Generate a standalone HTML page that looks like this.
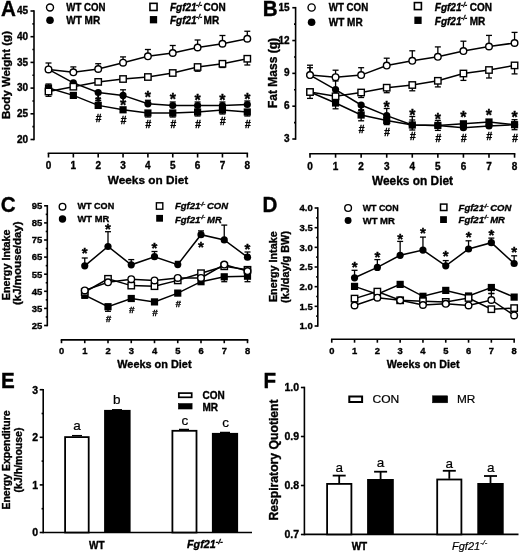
<!DOCTYPE html>
<html><head><meta charset="utf-8"><style>
html,body{margin:0;padding:0;background:#fff;}
svg{display:block;will-change:transform;}
text{font-family:"Liberation Sans",sans-serif;fill:#000;}
text{stroke:#000;stroke-width:0.2px;}
text[font-weight="bold"]{stroke:#000;stroke-width:0.35px;}
</style></head><body>
<svg width="520" height="554" viewBox="0 0 520 554">
<rect width="520" height="554" fill="#fff"/>
<text transform="translate(0.90,16.20) scale(1.03,1.1)" font-size="20" font-weight="bold">A</text>
<line x1="34.00" y1="10.20" x2="34.00" y2="140.30" stroke="#000" stroke-width="1.6"/>
<line x1="30.50" y1="11.00" x2="34.00" y2="11.00" stroke="#000" stroke-width="1.6"/>
<line x1="30.50" y1="36.70" x2="34.00" y2="36.70" stroke="#000" stroke-width="1.6"/>
<line x1="30.50" y1="62.40" x2="34.00" y2="62.40" stroke="#000" stroke-width="1.6"/>
<line x1="30.50" y1="88.10" x2="34.00" y2="88.10" stroke="#000" stroke-width="1.6"/>
<line x1="30.50" y1="113.80" x2="34.00" y2="113.80" stroke="#000" stroke-width="1.6"/>
<line x1="30.50" y1="139.50" x2="34.00" y2="139.50" stroke="#000" stroke-width="1.6"/>
<line x1="32.40" y1="23.85" x2="34.00" y2="23.85" stroke="#000" stroke-width="1.6"/>
<line x1="32.40" y1="49.55" x2="34.00" y2="49.55" stroke="#000" stroke-width="1.6"/>
<line x1="32.40" y1="75.25" x2="34.00" y2="75.25" stroke="#000" stroke-width="1.6"/>
<line x1="32.40" y1="100.95" x2="34.00" y2="100.95" stroke="#000" stroke-width="1.6"/>
<line x1="32.40" y1="126.65" x2="34.00" y2="126.65" stroke="#000" stroke-width="1.6"/>
<text x="28.20" y="14.10" font-size="10" font-weight="bold" text-anchor="end" font-style="normal" >45</text>
<text x="28.20" y="39.80" font-size="10" font-weight="bold" text-anchor="end" font-style="normal" >40</text>
<text x="28.20" y="65.50" font-size="10" font-weight="bold" text-anchor="end" font-style="normal" >35</text>
<text x="28.20" y="91.20" font-size="10" font-weight="bold" text-anchor="end" font-style="normal" >30</text>
<text x="28.20" y="116.90" font-size="10" font-weight="bold" text-anchor="end" font-style="normal" >25</text>
<text x="28.20" y="142.60" font-size="10" font-weight="bold" text-anchor="end" font-style="normal" >20</text>
<line x1="47.70" y1="153.20" x2="248.10" y2="153.20" stroke="#000" stroke-width="1.6"/>
<line x1="48.50" y1="153.20" x2="48.50" y2="157.50" stroke="#000" stroke-width="1.6"/>
<line x1="73.35" y1="153.20" x2="73.35" y2="157.50" stroke="#000" stroke-width="1.6"/>
<line x1="98.20" y1="153.20" x2="98.20" y2="157.50" stroke="#000" stroke-width="1.6"/>
<line x1="123.05" y1="153.20" x2="123.05" y2="157.50" stroke="#000" stroke-width="1.6"/>
<line x1="147.90" y1="153.20" x2="147.90" y2="157.50" stroke="#000" stroke-width="1.6"/>
<line x1="172.75" y1="153.20" x2="172.75" y2="157.50" stroke="#000" stroke-width="1.6"/>
<line x1="197.60" y1="153.20" x2="197.60" y2="157.50" stroke="#000" stroke-width="1.6"/>
<line x1="222.45" y1="153.20" x2="222.45" y2="157.50" stroke="#000" stroke-width="1.6"/>
<line x1="247.30" y1="153.20" x2="247.30" y2="157.50" stroke="#000" stroke-width="1.6"/>
<text x="48.50" y="169.20" font-size="10" font-weight="bold" text-anchor="middle" font-style="normal" >0</text>
<text x="73.35" y="169.20" font-size="10" font-weight="bold" text-anchor="middle" font-style="normal" >1</text>
<text x="98.20" y="169.20" font-size="10" font-weight="bold" text-anchor="middle" font-style="normal" >2</text>
<text x="123.05" y="169.20" font-size="10" font-weight="bold" text-anchor="middle" font-style="normal" >3</text>
<text x="147.90" y="169.20" font-size="10" font-weight="bold" text-anchor="middle" font-style="normal" >4</text>
<text x="172.75" y="169.20" font-size="10" font-weight="bold" text-anchor="middle" font-style="normal" >5</text>
<text x="197.60" y="169.20" font-size="10" font-weight="bold" text-anchor="middle" font-style="normal" >6</text>
<text x="222.45" y="169.20" font-size="10" font-weight="bold" text-anchor="middle" font-style="normal" >7</text>
<text x="247.30" y="169.20" font-size="10" font-weight="bold" text-anchor="middle" font-style="normal" >8</text>
<text x="148.00" y="184.40" font-size="11.8" font-weight="bold" text-anchor="middle" font-style="normal" >Weeks on Diet</text>
<text transform="translate(10.00,75.00) rotate(-90)" font-size="11.5" font-weight="bold" text-anchor="middle">Body Weight (g)</text>
<circle cx="50.00" cy="7.50" r="3.5" fill="#fff" stroke="#000" stroke-width="1.4"/>
<circle cx="50.00" cy="20.20" r="3.8" fill="#000"/>
<rect x="149.95" y="3.35" width="7.1" height="7.1" fill="#fff" stroke="#000" stroke-width="1.6"/>
<rect x="149.85" y="16.05" width="7.3" height="7.3" fill="#000"/>
<text x="66.30" y="11.30" font-size="10" font-weight="bold" text-anchor="start" font-style="normal"  textLength="39.2" lengthAdjust="spacingAndGlyphs">WT CON</text>
<text x="66.30" y="23.60" font-size="10" font-weight="bold" text-anchor="start" font-style="normal" >WT MR</text>
<text x="170.00" y="11.30" font-size="10" font-weight="bold" text-anchor="start" font-style="italic" >Fgf21</text>
<text x="196.00" y="6.90" font-size="6.5" font-weight="bold" text-anchor="start" font-style="italic" >-/-</text>
<text x="203.60" y="11.20" font-size="10" font-weight="bold" text-anchor="start" font-style="normal" >CON</text>
<text x="170.00" y="23.60" font-size="10" font-weight="bold" text-anchor="start" font-style="italic" >Fgf21</text>
<text x="196.00" y="19.20" font-size="6.5" font-weight="bold" text-anchor="start" font-style="italic" >-/-</text>
<text x="203.60" y="23.50" font-size="10" font-weight="bold" text-anchor="start" font-style="normal" >MR</text>
<line x1="48.50" y1="69.40" x2="48.50" y2="63.00" stroke="#000" stroke-width="1.3"/>
<line x1="45.50" y1="63.00" x2="51.50" y2="63.00" stroke="#000" stroke-width="1.3"/>
<line x1="48.50" y1="91.50" x2="48.50" y2="96.30" stroke="#000" stroke-width="1.3"/>
<line x1="45.50" y1="96.30" x2="51.50" y2="96.30" stroke="#000" stroke-width="1.3"/>
<line x1="73.35" y1="72.30" x2="73.35" y2="66.90" stroke="#000" stroke-width="1.3"/>
<line x1="70.35" y1="66.90" x2="76.35" y2="66.90" stroke="#000" stroke-width="1.3"/>
<line x1="98.20" y1="69.00" x2="98.20" y2="63.70" stroke="#000" stroke-width="1.3"/>
<line x1="95.20" y1="63.70" x2="101.20" y2="63.70" stroke="#000" stroke-width="1.3"/>
<line x1="123.05" y1="62.70" x2="123.05" y2="56.90" stroke="#000" stroke-width="1.3"/>
<line x1="120.05" y1="56.90" x2="126.05" y2="56.90" stroke="#000" stroke-width="1.3"/>
<line x1="147.90" y1="56.30" x2="147.90" y2="49.50" stroke="#000" stroke-width="1.3"/>
<line x1="144.90" y1="49.50" x2="150.90" y2="49.50" stroke="#000" stroke-width="1.3"/>
<line x1="172.75" y1="53.00" x2="172.75" y2="45.50" stroke="#000" stroke-width="1.3"/>
<line x1="169.75" y1="45.50" x2="175.75" y2="45.50" stroke="#000" stroke-width="1.3"/>
<line x1="197.60" y1="47.50" x2="197.60" y2="40.00" stroke="#000" stroke-width="1.3"/>
<line x1="194.60" y1="40.00" x2="200.60" y2="40.00" stroke="#000" stroke-width="1.3"/>
<line x1="197.60" y1="67.00" x2="197.60" y2="71.25" stroke="#000" stroke-width="1.3"/>
<line x1="194.60" y1="71.25" x2="200.60" y2="71.25" stroke="#000" stroke-width="1.3"/>
<line x1="222.45" y1="43.75" x2="222.45" y2="35.50" stroke="#000" stroke-width="1.3"/>
<line x1="219.45" y1="35.50" x2="225.45" y2="35.50" stroke="#000" stroke-width="1.3"/>
<line x1="222.45" y1="63.75" x2="222.45" y2="67.50" stroke="#000" stroke-width="1.3"/>
<line x1="219.45" y1="67.50" x2="225.45" y2="67.50" stroke="#000" stroke-width="1.3"/>
<line x1="247.30" y1="38.75" x2="247.30" y2="31.25" stroke="#000" stroke-width="1.3"/>
<line x1="244.30" y1="31.25" x2="250.30" y2="31.25" stroke="#000" stroke-width="1.3"/>
<line x1="247.30" y1="58.75" x2="247.30" y2="65.00" stroke="#000" stroke-width="1.3"/>
<line x1="244.30" y1="65.00" x2="250.30" y2="65.00" stroke="#000" stroke-width="1.3"/>
<line x1="147.90" y1="103.80" x2="147.90" y2="100.30" stroke="#000" stroke-width="1.3"/>
<line x1="144.90" y1="100.30" x2="150.90" y2="100.30" stroke="#000" stroke-width="1.3"/>
<line x1="147.90" y1="113.00" x2="147.90" y2="117.00" stroke="#000" stroke-width="1.3"/>
<line x1="144.90" y1="117.00" x2="150.90" y2="117.00" stroke="#000" stroke-width="1.3"/>
<line x1="172.75" y1="105.50" x2="172.75" y2="102.00" stroke="#000" stroke-width="1.3"/>
<line x1="169.75" y1="102.00" x2="175.75" y2="102.00" stroke="#000" stroke-width="1.3"/>
<line x1="172.75" y1="113.00" x2="172.75" y2="117.00" stroke="#000" stroke-width="1.3"/>
<line x1="169.75" y1="117.00" x2="175.75" y2="117.00" stroke="#000" stroke-width="1.3"/>
<line x1="197.60" y1="105.50" x2="197.60" y2="102.00" stroke="#000" stroke-width="1.3"/>
<line x1="194.60" y1="102.00" x2="200.60" y2="102.00" stroke="#000" stroke-width="1.3"/>
<line x1="197.60" y1="112.00" x2="197.60" y2="116.00" stroke="#000" stroke-width="1.3"/>
<line x1="194.60" y1="116.00" x2="200.60" y2="116.00" stroke="#000" stroke-width="1.3"/>
<line x1="222.45" y1="105.50" x2="222.45" y2="102.00" stroke="#000" stroke-width="1.3"/>
<line x1="219.45" y1="102.00" x2="225.45" y2="102.00" stroke="#000" stroke-width="1.3"/>
<line x1="222.45" y1="110.00" x2="222.45" y2="114.00" stroke="#000" stroke-width="1.3"/>
<line x1="219.45" y1="114.00" x2="225.45" y2="114.00" stroke="#000" stroke-width="1.3"/>
<line x1="247.30" y1="104.50" x2="247.30" y2="101.00" stroke="#000" stroke-width="1.3"/>
<line x1="244.30" y1="101.00" x2="250.30" y2="101.00" stroke="#000" stroke-width="1.3"/>
<line x1="247.30" y1="112.00" x2="247.30" y2="116.00" stroke="#000" stroke-width="1.3"/>
<line x1="244.30" y1="116.00" x2="250.30" y2="116.00" stroke="#000" stroke-width="1.3"/>
<line x1="98.20" y1="92.50" x2="98.20" y2="98.80" stroke="#000" stroke-width="1.3"/>
<line x1="95.20" y1="98.80" x2="101.20" y2="98.80" stroke="#000" stroke-width="1.3"/>
<line x1="123.05" y1="95.40" x2="123.05" y2="89.80" stroke="#000" stroke-width="1.3"/>
<line x1="120.05" y1="89.80" x2="126.05" y2="89.80" stroke="#000" stroke-width="1.3"/>
<line x1="98.20" y1="105.40" x2="98.20" y2="100.60" stroke="#000" stroke-width="1.3"/>
<line x1="95.20" y1="100.60" x2="101.20" y2="100.60" stroke="#000" stroke-width="1.3"/>
<line x1="48.50" y1="88.00" x2="48.50" y2="84.00" stroke="#000" stroke-width="1.3"/>
<line x1="45.50" y1="84.00" x2="51.50" y2="84.00" stroke="#000" stroke-width="1.3"/>
<text x="98.20" y="105.78" font-size="14" font-weight="bold" text-anchor="middle" font-style="normal" >*</text>
<polyline points="48.50,69.40 73.35,72.30 98.20,69.00 123.05,62.70 147.90,56.30 172.75,53.00 197.60,47.50 222.45,43.75 247.30,38.75" fill="none" stroke="#000" stroke-width="1.5"/>
<polyline points="48.50,91.50 73.35,86.70 98.20,81.90 123.05,79.00 147.90,77.00 172.75,73.00 197.60,67.00 222.45,63.75 247.30,58.75" fill="none" stroke="#000" stroke-width="1.5"/>
<polyline points="48.50,69.40 73.35,82.90 98.20,92.50 123.05,95.40 147.90,103.80 172.75,105.50 197.60,105.50 222.45,105.50 247.30,104.50" fill="none" stroke="#000" stroke-width="1.5"/>
<polyline points="48.50,88.00 73.35,95.40 98.20,105.40 123.05,109.80 147.90,113.00 172.75,113.00 197.60,112.00 222.45,110.00 247.30,112.00" fill="none" stroke="#000" stroke-width="1.5"/>
<rect x="44.90" y="84.40" width="7.2" height="7.2" fill="#000"/>
<circle cx="48.50" cy="69.40" r="3.6" fill="#000"/>
<rect x="45.30" y="88.30" width="6.4" height="6.4" fill="#fff" stroke="#000" stroke-width="1.4"/>
<circle cx="48.50" cy="69.40" r="3.3" fill="#fff" stroke="#000" stroke-width="1.4"/>
<rect x="69.75" y="91.80" width="7.2" height="7.2" fill="#000"/>
<circle cx="73.35" cy="82.90" r="3.6" fill="#000"/>
<rect x="70.15" y="83.50" width="6.4" height="6.4" fill="#fff" stroke="#000" stroke-width="1.4"/>
<circle cx="73.35" cy="72.30" r="3.3" fill="#fff" stroke="#000" stroke-width="1.4"/>
<rect x="94.60" y="101.80" width="7.2" height="7.2" fill="#000"/>
<circle cx="98.20" cy="92.50" r="3.6" fill="#000"/>
<rect x="95.00" y="78.70" width="6.4" height="6.4" fill="#fff" stroke="#000" stroke-width="1.4"/>
<circle cx="98.20" cy="69.00" r="3.3" fill="#fff" stroke="#000" stroke-width="1.4"/>
<rect x="119.45" y="106.20" width="7.2" height="7.2" fill="#000"/>
<circle cx="123.05" cy="95.40" r="3.6" fill="#000"/>
<rect x="119.85" y="75.80" width="6.4" height="6.4" fill="#fff" stroke="#000" stroke-width="1.4"/>
<circle cx="123.05" cy="62.70" r="3.3" fill="#fff" stroke="#000" stroke-width="1.4"/>
<rect x="144.30" y="109.40" width="7.2" height="7.2" fill="#000"/>
<circle cx="147.90" cy="103.80" r="3.6" fill="#000"/>
<rect x="144.70" y="73.80" width="6.4" height="6.4" fill="#fff" stroke="#000" stroke-width="1.4"/>
<circle cx="147.90" cy="56.30" r="3.3" fill="#fff" stroke="#000" stroke-width="1.4"/>
<rect x="169.15" y="109.40" width="7.2" height="7.2" fill="#000"/>
<circle cx="172.75" cy="105.50" r="3.6" fill="#000"/>
<rect x="169.55" y="69.80" width="6.4" height="6.4" fill="#fff" stroke="#000" stroke-width="1.4"/>
<circle cx="172.75" cy="53.00" r="3.3" fill="#fff" stroke="#000" stroke-width="1.4"/>
<rect x="194.00" y="108.40" width="7.2" height="7.2" fill="#000"/>
<circle cx="197.60" cy="105.50" r="3.6" fill="#000"/>
<rect x="194.40" y="63.80" width="6.4" height="6.4" fill="#fff" stroke="#000" stroke-width="1.4"/>
<circle cx="197.60" cy="47.50" r="3.3" fill="#fff" stroke="#000" stroke-width="1.4"/>
<rect x="218.85" y="106.40" width="7.2" height="7.2" fill="#000"/>
<circle cx="222.45" cy="105.50" r="3.6" fill="#000"/>
<rect x="219.25" y="60.55" width="6.4" height="6.4" fill="#fff" stroke="#000" stroke-width="1.4"/>
<circle cx="222.45" cy="43.75" r="3.3" fill="#fff" stroke="#000" stroke-width="1.4"/>
<rect x="243.70" y="108.40" width="7.2" height="7.2" fill="#000"/>
<circle cx="247.30" cy="104.50" r="3.6" fill="#000"/>
<rect x="244.10" y="55.55" width="6.4" height="6.4" fill="#fff" stroke="#000" stroke-width="1.4"/>
<circle cx="247.30" cy="38.75" r="3.3" fill="#fff" stroke="#000" stroke-width="1.4"/>
<text x="123.05" y="110.60" font-size="16" font-weight="bold" text-anchor="middle" font-style="normal" >*</text>
<text x="147.90" y="103.40" font-size="16" font-weight="bold" text-anchor="middle" font-style="normal" >*</text>
<text x="172.75" y="105.20" font-size="16" font-weight="bold" text-anchor="middle" font-style="normal" >*</text>
<text x="197.60" y="105.50" font-size="16" font-weight="bold" text-anchor="middle" font-style="normal" >*</text>
<text x="222.45" y="105.50" font-size="16" font-weight="bold" text-anchor="middle" font-style="normal" >*</text>
<text x="247.30" y="105.20" font-size="16" font-weight="bold" text-anchor="middle" font-style="normal" >*</text>
<text x="98.50" y="121.58" font-size="10.5" font-weight="bold" text-anchor="middle" font-style="italic" >#</text>
<text x="123.35" y="124.48" font-size="10.5" font-weight="bold" text-anchor="middle" font-style="italic" >#</text>
<text x="148.20" y="127.78" font-size="10.5" font-weight="bold" text-anchor="middle" font-style="italic" >#</text>
<text x="173.05" y="128.18" font-size="10.5" font-weight="bold" text-anchor="middle" font-style="italic" >#</text>
<text x="197.90" y="128.18" font-size="10.5" font-weight="bold" text-anchor="middle" font-style="italic" >#</text>
<text x="222.75" y="125.28" font-size="10.5" font-weight="bold" text-anchor="middle" font-style="italic" >#</text>
<text x="247.60" y="128.18" font-size="10.5" font-weight="bold" text-anchor="middle" font-style="italic" >#</text>
<text transform="translate(262.70,16.00) scale(1.03,1.1)" font-size="20" font-weight="bold">B</text>
<line x1="295.60" y1="6.92" x2="295.60" y2="139.80" stroke="#000" stroke-width="1.6"/>
<line x1="292.30" y1="7.72" x2="295.60" y2="7.72" stroke="#000" stroke-width="1.6"/>
<line x1="292.30" y1="40.54" x2="295.60" y2="40.54" stroke="#000" stroke-width="1.6"/>
<line x1="292.30" y1="73.36" x2="295.60" y2="73.36" stroke="#000" stroke-width="1.6"/>
<line x1="292.30" y1="106.18" x2="295.60" y2="106.18" stroke="#000" stroke-width="1.6"/>
<line x1="292.30" y1="139.00" x2="295.60" y2="139.00" stroke="#000" stroke-width="1.6"/>
<line x1="294.00" y1="24.13" x2="295.60" y2="24.13" stroke="#000" stroke-width="1.6"/>
<line x1="294.00" y1="56.95" x2="295.60" y2="56.95" stroke="#000" stroke-width="1.6"/>
<line x1="294.00" y1="89.77" x2="295.60" y2="89.77" stroke="#000" stroke-width="1.6"/>
<line x1="294.00" y1="122.59" x2="295.60" y2="122.59" stroke="#000" stroke-width="1.6"/>
<text x="289.60" y="10.82" font-size="10" font-weight="bold" text-anchor="end" font-style="normal" >15</text>
<text x="289.60" y="43.64" font-size="10" font-weight="bold" text-anchor="end" font-style="normal" >12</text>
<text x="289.60" y="76.46" font-size="10" font-weight="bold" text-anchor="end" font-style="normal" >9</text>
<text x="289.60" y="109.28" font-size="10" font-weight="bold" text-anchor="end" font-style="normal" >6</text>
<text x="289.60" y="142.10" font-size="10" font-weight="bold" text-anchor="end" font-style="normal" >3</text>
<line x1="309.20" y1="153.70" x2="515.36" y2="153.70" stroke="#000" stroke-width="1.6"/>
<line x1="310.00" y1="153.70" x2="310.00" y2="157.70" stroke="#000" stroke-width="1.6"/>
<line x1="335.57" y1="153.70" x2="335.57" y2="157.70" stroke="#000" stroke-width="1.6"/>
<line x1="361.14" y1="153.70" x2="361.14" y2="157.70" stroke="#000" stroke-width="1.6"/>
<line x1="386.71" y1="153.70" x2="386.71" y2="157.70" stroke="#000" stroke-width="1.6"/>
<line x1="412.28" y1="153.70" x2="412.28" y2="157.70" stroke="#000" stroke-width="1.6"/>
<line x1="437.85" y1="153.70" x2="437.85" y2="157.70" stroke="#000" stroke-width="1.6"/>
<line x1="463.42" y1="153.70" x2="463.42" y2="157.70" stroke="#000" stroke-width="1.6"/>
<line x1="488.99" y1="153.70" x2="488.99" y2="157.70" stroke="#000" stroke-width="1.6"/>
<line x1="514.56" y1="153.70" x2="514.56" y2="157.70" stroke="#000" stroke-width="1.6"/>
<text x="310.00" y="169.80" font-size="10" font-weight="bold" text-anchor="middle" font-style="normal" >0</text>
<text x="335.57" y="169.80" font-size="10" font-weight="bold" text-anchor="middle" font-style="normal" >1</text>
<text x="361.14" y="169.80" font-size="10" font-weight="bold" text-anchor="middle" font-style="normal" >2</text>
<text x="386.71" y="169.80" font-size="10" font-weight="bold" text-anchor="middle" font-style="normal" >3</text>
<text x="412.28" y="169.80" font-size="10" font-weight="bold" text-anchor="middle" font-style="normal" >4</text>
<text x="437.85" y="169.80" font-size="10" font-weight="bold" text-anchor="middle" font-style="normal" >5</text>
<text x="463.42" y="169.80" font-size="10" font-weight="bold" text-anchor="middle" font-style="normal" >6</text>
<text x="488.99" y="169.80" font-size="10" font-weight="bold" text-anchor="middle" font-style="normal" >7</text>
<text x="514.56" y="169.80" font-size="10" font-weight="bold" text-anchor="middle" font-style="normal" >8</text>
<text x="412.50" y="184.60" font-size="11.9" font-weight="bold" text-anchor="middle" font-style="normal" >Weeks on Diet</text>
<text transform="translate(277.30,73.00) rotate(-90)" font-size="12" font-weight="bold" text-anchor="middle">Fat Mass (g)</text>
<circle cx="311.60" cy="7.50" r="3.6" fill="#fff" stroke="#000" stroke-width="1.4"/>
<circle cx="311.60" cy="22.20" r="3.8" fill="#000"/>
<rect x="414.40" y="2.60" width="7.0" height="7.0" fill="#fff" stroke="#000" stroke-width="1.6"/>
<rect x="414.35" y="16.65" width="7.3" height="7.3" fill="#000"/>
<text x="328.80" y="11.30" font-size="10" font-weight="bold" text-anchor="start" font-style="normal"  textLength="39.4" lengthAdjust="spacingAndGlyphs">WT CON</text>
<text x="328.80" y="26.00" font-size="10" font-weight="bold" text-anchor="start" font-style="normal" >WT MR</text>
<text x="434.80" y="11.20" font-size="10" font-weight="bold" text-anchor="start" font-style="italic" >Fgf21</text>
<text x="461.00" y="6.80" font-size="6.5" font-weight="bold" text-anchor="start" font-style="italic" >-/-</text>
<text x="469.70" y="11.00" font-size="10" font-weight="bold" text-anchor="start" font-style="normal" >CON</text>
<text x="434.80" y="24.60" font-size="10" font-weight="bold" text-anchor="start" font-style="italic" >Fgf21</text>
<text x="461.00" y="20.20" font-size="6.5" font-weight="bold" text-anchor="start" font-style="italic" >-/-</text>
<text x="469.70" y="24.50" font-size="10" font-weight="bold" text-anchor="start" font-style="normal" >MR</text>
<line x1="310.00" y1="75.10" x2="310.00" y2="65.20" stroke="#000" stroke-width="1.3"/>
<line x1="307.00" y1="65.20" x2="313.00" y2="65.20" stroke="#000" stroke-width="1.3"/>
<line x1="310.00" y1="92.00" x2="310.00" y2="98.40" stroke="#000" stroke-width="1.3"/>
<line x1="307.00" y1="98.40" x2="313.00" y2="98.40" stroke="#000" stroke-width="1.3"/>
<line x1="335.57" y1="77.20" x2="335.57" y2="70.20" stroke="#000" stroke-width="1.3"/>
<line x1="332.57" y1="70.20" x2="338.57" y2="70.20" stroke="#000" stroke-width="1.3"/>
<line x1="361.14" y1="75.10" x2="361.14" y2="67.70" stroke="#000" stroke-width="1.3"/>
<line x1="358.14" y1="67.70" x2="364.14" y2="67.70" stroke="#000" stroke-width="1.3"/>
<line x1="386.71" y1="65.60" x2="386.71" y2="58.20" stroke="#000" stroke-width="1.3"/>
<line x1="383.71" y1="58.20" x2="389.71" y2="58.20" stroke="#000" stroke-width="1.3"/>
<line x1="412.28" y1="60.80" x2="412.28" y2="50.80" stroke="#000" stroke-width="1.3"/>
<line x1="409.28" y1="50.80" x2="415.28" y2="50.80" stroke="#000" stroke-width="1.3"/>
<line x1="412.28" y1="85.00" x2="412.28" y2="90.80" stroke="#000" stroke-width="1.3"/>
<line x1="409.28" y1="90.80" x2="415.28" y2="90.80" stroke="#000" stroke-width="1.3"/>
<line x1="437.85" y1="56.80" x2="437.85" y2="46.90" stroke="#000" stroke-width="1.3"/>
<line x1="434.85" y1="46.90" x2="440.85" y2="46.90" stroke="#000" stroke-width="1.3"/>
<line x1="437.85" y1="80.80" x2="437.85" y2="86.90" stroke="#000" stroke-width="1.3"/>
<line x1="434.85" y1="86.90" x2="440.85" y2="86.90" stroke="#000" stroke-width="1.3"/>
<line x1="463.42" y1="51.10" x2="463.42" y2="41.20" stroke="#000" stroke-width="1.3"/>
<line x1="460.42" y1="41.20" x2="466.42" y2="41.20" stroke="#000" stroke-width="1.3"/>
<line x1="463.42" y1="73.50" x2="463.42" y2="80.40" stroke="#000" stroke-width="1.3"/>
<line x1="460.42" y1="80.40" x2="466.42" y2="80.40" stroke="#000" stroke-width="1.3"/>
<line x1="488.99" y1="46.50" x2="488.99" y2="35.40" stroke="#000" stroke-width="1.3"/>
<line x1="485.99" y1="35.40" x2="491.99" y2="35.40" stroke="#000" stroke-width="1.3"/>
<line x1="488.99" y1="70.00" x2="488.99" y2="78.00" stroke="#000" stroke-width="1.3"/>
<line x1="485.99" y1="78.00" x2="491.99" y2="78.00" stroke="#000" stroke-width="1.3"/>
<line x1="514.56" y1="43.00" x2="514.56" y2="32.40" stroke="#000" stroke-width="1.3"/>
<line x1="511.56" y1="32.40" x2="517.56" y2="32.40" stroke="#000" stroke-width="1.3"/>
<line x1="514.56" y1="65.40" x2="514.56" y2="73.90" stroke="#000" stroke-width="1.3"/>
<line x1="511.56" y1="73.90" x2="517.56" y2="73.90" stroke="#000" stroke-width="1.3"/>
<line x1="310.00" y1="75.10" x2="310.00" y2="67.70" stroke="#000" stroke-width="1.3"/>
<line x1="307.00" y1="67.70" x2="313.00" y2="67.70" stroke="#000" stroke-width="1.3"/>
<line x1="335.57" y1="89.60" x2="335.57" y2="81.00" stroke="#000" stroke-width="1.3"/>
<line x1="332.57" y1="81.00" x2="338.57" y2="81.00" stroke="#000" stroke-width="1.3"/>
<line x1="335.57" y1="103.00" x2="335.57" y2="108.80" stroke="#000" stroke-width="1.3"/>
<line x1="332.57" y1="108.80" x2="338.57" y2="108.80" stroke="#000" stroke-width="1.3"/>
<line x1="361.14" y1="105.00" x2="361.14" y2="110.20" stroke="#000" stroke-width="1.3"/>
<line x1="358.14" y1="110.20" x2="364.14" y2="110.20" stroke="#000" stroke-width="1.3"/>
<line x1="361.14" y1="115.00" x2="361.14" y2="110.20" stroke="#000" stroke-width="1.3"/>
<line x1="358.14" y1="110.20" x2="364.14" y2="110.20" stroke="#000" stroke-width="1.3"/>
<text x="361.14" y="118.17" font-size="14" font-weight="bold" text-anchor="middle" font-style="normal" >*</text>
<line x1="335.57" y1="96.30" x2="335.57" y2="101.30" stroke="#000" stroke-width="1.3"/>
<line x1="332.57" y1="101.30" x2="338.57" y2="101.30" stroke="#000" stroke-width="1.3"/>
<line x1="361.14" y1="92.50" x2="361.14" y2="97.50" stroke="#000" stroke-width="1.3"/>
<line x1="358.14" y1="97.50" x2="364.14" y2="97.50" stroke="#000" stroke-width="1.3"/>
<line x1="386.71" y1="87.70" x2="386.71" y2="92.70" stroke="#000" stroke-width="1.3"/>
<line x1="383.71" y1="92.70" x2="389.71" y2="92.70" stroke="#000" stroke-width="1.3"/>
<line x1="361.14" y1="115.00" x2="361.14" y2="120.80" stroke="#000" stroke-width="1.3"/>
<line x1="358.14" y1="120.80" x2="364.14" y2="120.80" stroke="#000" stroke-width="1.3"/>
<line x1="386.71" y1="120.40" x2="386.71" y2="124.60" stroke="#000" stroke-width="1.3"/>
<line x1="383.71" y1="124.60" x2="389.71" y2="124.60" stroke="#000" stroke-width="1.3"/>
<line x1="386.71" y1="115.60" x2="386.71" y2="108.50" stroke="#000" stroke-width="1.3"/>
<line x1="383.71" y1="108.50" x2="389.71" y2="108.50" stroke="#000" stroke-width="1.3"/>
<line x1="412.28" y1="125.00" x2="412.28" y2="116.50" stroke="#000" stroke-width="1.3"/>
<line x1="409.28" y1="116.50" x2="415.28" y2="116.50" stroke="#000" stroke-width="1.3"/>
<line x1="412.28" y1="125.00" x2="412.28" y2="130.00" stroke="#000" stroke-width="1.3"/>
<line x1="409.28" y1="130.00" x2="415.28" y2="130.00" stroke="#000" stroke-width="1.3"/>
<line x1="412.28" y1="125.00" x2="412.28" y2="120.00" stroke="#000" stroke-width="1.3"/>
<line x1="409.28" y1="120.00" x2="415.28" y2="120.00" stroke="#000" stroke-width="1.3"/>
<line x1="437.85" y1="125.40" x2="437.85" y2="130.40" stroke="#000" stroke-width="1.3"/>
<line x1="434.85" y1="130.40" x2="440.85" y2="130.40" stroke="#000" stroke-width="1.3"/>
<line x1="437.85" y1="125.40" x2="437.85" y2="120.40" stroke="#000" stroke-width="1.3"/>
<line x1="434.85" y1="120.40" x2="440.85" y2="120.40" stroke="#000" stroke-width="1.3"/>
<line x1="463.42" y1="123.80" x2="463.42" y2="128.80" stroke="#000" stroke-width="1.3"/>
<line x1="460.42" y1="128.80" x2="466.42" y2="128.80" stroke="#000" stroke-width="1.3"/>
<line x1="463.42" y1="127.70" x2="463.42" y2="122.70" stroke="#000" stroke-width="1.3"/>
<line x1="460.42" y1="122.70" x2="466.42" y2="122.70" stroke="#000" stroke-width="1.3"/>
<line x1="488.99" y1="122.00" x2="488.99" y2="127.00" stroke="#000" stroke-width="1.3"/>
<line x1="485.99" y1="127.00" x2="491.99" y2="127.00" stroke="#000" stroke-width="1.3"/>
<line x1="488.99" y1="126.00" x2="488.99" y2="121.00" stroke="#000" stroke-width="1.3"/>
<line x1="485.99" y1="121.00" x2="491.99" y2="121.00" stroke="#000" stroke-width="1.3"/>
<line x1="514.56" y1="124.70" x2="514.56" y2="129.70" stroke="#000" stroke-width="1.3"/>
<line x1="511.56" y1="129.70" x2="517.56" y2="129.70" stroke="#000" stroke-width="1.3"/>
<line x1="514.56" y1="124.70" x2="514.56" y2="119.70" stroke="#000" stroke-width="1.3"/>
<line x1="511.56" y1="119.70" x2="517.56" y2="119.70" stroke="#000" stroke-width="1.3"/>
<polyline points="310.00,75.10 335.57,77.20 361.14,75.10 386.71,65.60 412.28,60.80 437.85,56.80 463.42,51.10 488.99,46.50 514.56,43.00" fill="none" stroke="#000" stroke-width="1.5"/>
<polyline points="310.00,92.00 335.57,96.30 361.14,92.50 386.71,87.70 412.28,85.00 437.85,80.80 463.42,73.50 488.99,70.00 514.56,65.40" fill="none" stroke="#000" stroke-width="1.5"/>
<polyline points="310.00,75.10 335.57,89.60 361.14,105.00 386.71,115.60 412.28,125.00 437.85,125.40 463.42,127.70 488.99,126.00 514.56,124.70" fill="none" stroke="#000" stroke-width="1.5"/>
<polyline points="310.00,92.00 335.57,103.00 361.14,115.00 386.71,120.40 412.28,125.00 437.85,125.40 463.42,123.80 488.99,122.00 514.56,124.70" fill="none" stroke="#000" stroke-width="1.5"/>
<rect x="306.40" y="88.40" width="7.2" height="7.2" fill="#000"/>
<circle cx="310.00" cy="75.10" r="3.6" fill="#000"/>
<rect x="306.80" y="88.80" width="6.4" height="6.4" fill="#fff" stroke="#000" stroke-width="1.4"/>
<circle cx="310.00" cy="75.10" r="3.3" fill="#fff" stroke="#000" stroke-width="1.4"/>
<rect x="331.97" y="99.40" width="7.2" height="7.2" fill="#000"/>
<circle cx="335.57" cy="89.60" r="3.6" fill="#000"/>
<rect x="332.37" y="93.10" width="6.4" height="6.4" fill="#fff" stroke="#000" stroke-width="1.4"/>
<circle cx="335.57" cy="77.20" r="3.3" fill="#fff" stroke="#000" stroke-width="1.4"/>
<rect x="357.54" y="111.40" width="7.2" height="7.2" fill="#000"/>
<circle cx="361.14" cy="105.00" r="3.6" fill="#000"/>
<rect x="357.94" y="89.30" width="6.4" height="6.4" fill="#fff" stroke="#000" stroke-width="1.4"/>
<circle cx="361.14" cy="75.10" r="3.3" fill="#fff" stroke="#000" stroke-width="1.4"/>
<rect x="383.11" y="116.80" width="7.2" height="7.2" fill="#000"/>
<circle cx="386.71" cy="115.60" r="3.6" fill="#000"/>
<rect x="383.51" y="84.50" width="6.4" height="6.4" fill="#fff" stroke="#000" stroke-width="1.4"/>
<circle cx="386.71" cy="65.60" r="3.3" fill="#fff" stroke="#000" stroke-width="1.4"/>
<rect x="408.68" y="121.40" width="7.2" height="7.2" fill="#000"/>
<circle cx="412.28" cy="125.00" r="3.6" fill="#000"/>
<rect x="409.08" y="81.80" width="6.4" height="6.4" fill="#fff" stroke="#000" stroke-width="1.4"/>
<circle cx="412.28" cy="60.80" r="3.3" fill="#fff" stroke="#000" stroke-width="1.4"/>
<rect x="434.25" y="121.80" width="7.2" height="7.2" fill="#000"/>
<circle cx="437.85" cy="125.40" r="3.6" fill="#000"/>
<rect x="434.65" y="77.60" width="6.4" height="6.4" fill="#fff" stroke="#000" stroke-width="1.4"/>
<circle cx="437.85" cy="56.80" r="3.3" fill="#fff" stroke="#000" stroke-width="1.4"/>
<rect x="459.82" y="120.20" width="7.2" height="7.2" fill="#000"/>
<circle cx="463.42" cy="127.70" r="3.6" fill="#000"/>
<rect x="460.22" y="70.30" width="6.4" height="6.4" fill="#fff" stroke="#000" stroke-width="1.4"/>
<circle cx="463.42" cy="51.10" r="3.3" fill="#fff" stroke="#000" stroke-width="1.4"/>
<rect x="485.39" y="118.40" width="7.2" height="7.2" fill="#000"/>
<circle cx="488.99" cy="126.00" r="3.6" fill="#000"/>
<rect x="485.79" y="66.80" width="6.4" height="6.4" fill="#fff" stroke="#000" stroke-width="1.4"/>
<circle cx="488.99" cy="46.50" r="3.3" fill="#fff" stroke="#000" stroke-width="1.4"/>
<rect x="510.96" y="121.10" width="7.2" height="7.2" fill="#000"/>
<circle cx="514.56" cy="124.70" r="3.6" fill="#000"/>
<rect x="511.36" y="62.20" width="6.4" height="6.4" fill="#fff" stroke="#000" stroke-width="1.4"/>
<circle cx="514.56" cy="43.00" r="3.3" fill="#fff" stroke="#000" stroke-width="1.4"/>
<text x="386.71" y="113.00" font-size="16" font-weight="bold" text-anchor="middle" font-style="normal" >*</text>
<text x="412.28" y="120.70" font-size="16" font-weight="bold" text-anchor="middle" font-style="normal" >*</text>
<text x="437.85" y="124.50" font-size="16" font-weight="bold" text-anchor="middle" font-style="normal" >*</text>
<text x="463.42" y="122.90" font-size="16" font-weight="bold" text-anchor="middle" font-style="normal" >*</text>
<text x="488.99" y="121.20" font-size="16" font-weight="bold" text-anchor="middle" font-style="normal" >*</text>
<text x="514.56" y="122.90" font-size="16" font-weight="bold" text-anchor="middle" font-style="normal" >*</text>
<text x="361.44" y="132.78" font-size="10.5" font-weight="bold" text-anchor="middle" font-style="italic" >#</text>
<text x="387.01" y="135.68" font-size="10.5" font-weight="bold" text-anchor="middle" font-style="italic" >#</text>
<text x="412.58" y="140.48" font-size="10.5" font-weight="bold" text-anchor="middle" font-style="italic" >#</text>
<text x="438.15" y="142.28" font-size="10.5" font-weight="bold" text-anchor="middle" font-style="italic" >#</text>
<text x="463.72" y="142.28" font-size="10.5" font-weight="bold" text-anchor="middle" font-style="italic" >#</text>
<text x="489.29" y="139.98" font-size="10.5" font-weight="bold" text-anchor="middle" font-style="italic" >#</text>
<text x="514.86" y="141.78" font-size="10.5" font-weight="bold" text-anchor="middle" font-style="italic" >#</text>
<text transform="translate(0.80,212.40) scale(1.03,1.1)" font-size="20" font-weight="bold">C</text>
<line x1="47.30" y1="205.00" x2="47.30" y2="326.30" stroke="#000" stroke-width="1.6"/>
<line x1="44.10" y1="205.80" x2="47.30" y2="205.80" stroke="#000" stroke-width="1.6"/>
<line x1="44.10" y1="222.90" x2="47.30" y2="222.90" stroke="#000" stroke-width="1.6"/>
<line x1="44.10" y1="240.00" x2="47.30" y2="240.00" stroke="#000" stroke-width="1.6"/>
<line x1="44.10" y1="257.10" x2="47.30" y2="257.10" stroke="#000" stroke-width="1.6"/>
<line x1="44.10" y1="274.20" x2="47.30" y2="274.20" stroke="#000" stroke-width="1.6"/>
<line x1="44.10" y1="291.30" x2="47.30" y2="291.30" stroke="#000" stroke-width="1.6"/>
<line x1="44.10" y1="308.40" x2="47.30" y2="308.40" stroke="#000" stroke-width="1.6"/>
<line x1="44.10" y1="325.50" x2="47.30" y2="325.50" stroke="#000" stroke-width="1.6"/>
<line x1="45.70" y1="214.35" x2="47.30" y2="214.35" stroke="#000" stroke-width="1.6"/>
<line x1="45.70" y1="231.45" x2="47.30" y2="231.45" stroke="#000" stroke-width="1.6"/>
<line x1="45.70" y1="248.55" x2="47.30" y2="248.55" stroke="#000" stroke-width="1.6"/>
<line x1="45.70" y1="265.65" x2="47.30" y2="265.65" stroke="#000" stroke-width="1.6"/>
<line x1="45.70" y1="282.75" x2="47.30" y2="282.75" stroke="#000" stroke-width="1.6"/>
<line x1="45.70" y1="299.85" x2="47.30" y2="299.85" stroke="#000" stroke-width="1.6"/>
<line x1="45.70" y1="316.95" x2="47.30" y2="316.95" stroke="#000" stroke-width="1.6"/>
<text x="42.30" y="209.10" font-size="9.5" font-weight="bold" text-anchor="end" font-style="normal" >95</text>
<text x="42.30" y="226.20" font-size="9.5" font-weight="bold" text-anchor="end" font-style="normal" >85</text>
<text x="42.30" y="243.30" font-size="9.5" font-weight="bold" text-anchor="end" font-style="normal" >75</text>
<text x="42.30" y="260.40" font-size="9.5" font-weight="bold" text-anchor="end" font-style="normal" >65</text>
<text x="42.30" y="277.50" font-size="9.5" font-weight="bold" text-anchor="end" font-style="normal" >55</text>
<text x="42.30" y="294.60" font-size="9.5" font-weight="bold" text-anchor="end" font-style="normal" >45</text>
<text x="42.30" y="311.70" font-size="9.5" font-weight="bold" text-anchor="end" font-style="normal" >35</text>
<text x="42.30" y="328.80" font-size="9.5" font-weight="bold" text-anchor="end" font-style="normal" >25</text>
<line x1="60.70" y1="339.90" x2="248.30" y2="339.90" stroke="#000" stroke-width="1.6"/>
<line x1="61.50" y1="339.90" x2="61.50" y2="343.20" stroke="#000" stroke-width="1.6"/>
<line x1="84.75" y1="339.90" x2="84.75" y2="343.20" stroke="#000" stroke-width="1.6"/>
<line x1="108.00" y1="339.90" x2="108.00" y2="343.20" stroke="#000" stroke-width="1.6"/>
<line x1="131.25" y1="339.90" x2="131.25" y2="343.20" stroke="#000" stroke-width="1.6"/>
<line x1="154.50" y1="339.90" x2="154.50" y2="343.20" stroke="#000" stroke-width="1.6"/>
<line x1="177.75" y1="339.90" x2="177.75" y2="343.20" stroke="#000" stroke-width="1.6"/>
<line x1="201.00" y1="339.90" x2="201.00" y2="343.20" stroke="#000" stroke-width="1.6"/>
<line x1="224.25" y1="339.90" x2="224.25" y2="343.20" stroke="#000" stroke-width="1.6"/>
<line x1="247.50" y1="339.90" x2="247.50" y2="343.20" stroke="#000" stroke-width="1.6"/>
<text x="61.50" y="354.30" font-size="9.4" font-weight="bold" text-anchor="middle" font-style="normal" >0</text>
<text x="84.75" y="354.30" font-size="9.4" font-weight="bold" text-anchor="middle" font-style="normal" >1</text>
<text x="108.00" y="354.30" font-size="9.4" font-weight="bold" text-anchor="middle" font-style="normal" >2</text>
<text x="131.25" y="354.30" font-size="9.4" font-weight="bold" text-anchor="middle" font-style="normal" >3</text>
<text x="154.50" y="354.30" font-size="9.4" font-weight="bold" text-anchor="middle" font-style="normal" >4</text>
<text x="177.75" y="354.30" font-size="9.4" font-weight="bold" text-anchor="middle" font-style="normal" >5</text>
<text x="201.00" y="354.30" font-size="9.4" font-weight="bold" text-anchor="middle" font-style="normal" >6</text>
<text x="224.25" y="354.30" font-size="9.4" font-weight="bold" text-anchor="middle" font-style="normal" >7</text>
<text x="247.50" y="354.30" font-size="9.4" font-weight="bold" text-anchor="middle" font-style="normal" >8</text>
<text x="154.40" y="367.50" font-size="10.9" font-weight="bold" text-anchor="middle" font-style="normal" >Weeks on Diet</text>
<text transform="translate(9.60,264.80) rotate(-90)" font-size="10.8" font-weight="bold" text-anchor="middle">Energy Intake</text>
<text transform="translate(21.00,263.20) rotate(-90)" font-size="11.5" font-weight="bold" text-anchor="middle">(kJ/mouse/day)</text>
<circle cx="62.50" cy="206.70" r="3.3" fill="#fff" stroke="#000" stroke-width="1.4"/>
<circle cx="62.50" cy="219.00" r="3.7" fill="#000"/>
<rect x="156.40" y="202.80" width="6.4" height="6.4" fill="#fff" stroke="#000" stroke-width="1.4"/>
<rect x="156.20" y="214.90" width="6.8" height="6.8" fill="#000"/>
<text x="77.50" y="209.20" font-size="9.5" font-weight="bold" text-anchor="start" font-style="normal"  textLength="36.7" lengthAdjust="spacingAndGlyphs">WT CON</text>
<text x="77.50" y="222.00" font-size="9.5" font-weight="bold" text-anchor="start" font-style="normal"  textLength="31.7" lengthAdjust="spacingAndGlyphs">WT MR</text>
<text x="174.90" y="209.40" font-size="9.5" font-weight="bold" text-anchor="start" font-style="italic" >Fgf21</text>
<text x="199.50" y="205.80" font-size="6" font-weight="bold" text-anchor="start" font-style="italic" >-/-</text>
<text x="207.00" y="209.40" font-size="9.5" font-weight="bold" text-anchor="start" font-style="italic" >CON</text>
<text x="174.90" y="222.70" font-size="9.5" font-weight="bold" text-anchor="start" font-style="italic" >Fgf21</text>
<text x="199.50" y="219.10" font-size="6" font-weight="bold" text-anchor="start" font-style="italic" >-/-</text>
<text x="207.00" y="222.70" font-size="9.5" font-weight="bold" text-anchor="start" font-style="italic" >MR</text>
<line x1="84.75" y1="265.80" x2="84.75" y2="258.00" stroke="#000" stroke-width="1.3"/>
<line x1="81.75" y1="258.00" x2="87.75" y2="258.00" stroke="#000" stroke-width="1.3"/>
<line x1="108.00" y1="246.50" x2="108.00" y2="231.70" stroke="#000" stroke-width="1.3"/>
<line x1="105.00" y1="231.70" x2="111.00" y2="231.70" stroke="#000" stroke-width="1.3"/>
<line x1="131.25" y1="264.80" x2="131.25" y2="259.60" stroke="#000" stroke-width="1.3"/>
<line x1="128.25" y1="259.60" x2="134.25" y2="259.60" stroke="#000" stroke-width="1.3"/>
<line x1="154.50" y1="256.70" x2="154.50" y2="251.50" stroke="#000" stroke-width="1.3"/>
<line x1="151.50" y1="251.50" x2="157.50" y2="251.50" stroke="#000" stroke-width="1.3"/>
<line x1="177.75" y1="264.60" x2="177.75" y2="261.40" stroke="#000" stroke-width="1.3"/>
<line x1="174.75" y1="261.40" x2="180.75" y2="261.40" stroke="#000" stroke-width="1.3"/>
<line x1="201.00" y1="234.70" x2="201.00" y2="230.90" stroke="#000" stroke-width="1.3"/>
<line x1="198.00" y1="230.90" x2="204.00" y2="230.90" stroke="#000" stroke-width="1.3"/>
<line x1="224.25" y1="239.90" x2="224.25" y2="225.10" stroke="#000" stroke-width="1.3"/>
<line x1="221.25" y1="225.10" x2="227.25" y2="225.10" stroke="#000" stroke-width="1.3"/>
<line x1="247.50" y1="257.20" x2="247.50" y2="252.00" stroke="#000" stroke-width="1.3"/>
<line x1="244.50" y1="252.00" x2="250.50" y2="252.00" stroke="#000" stroke-width="1.3"/>
<line x1="84.75" y1="295.20" x2="84.75" y2="298.10" stroke="#000" stroke-width="1.3"/>
<line x1="81.75" y1="298.10" x2="87.75" y2="298.10" stroke="#000" stroke-width="1.3"/>
<line x1="108.00" y1="306.70" x2="108.00" y2="311.30" stroke="#000" stroke-width="1.3"/>
<line x1="105.00" y1="311.30" x2="111.00" y2="311.30" stroke="#000" stroke-width="1.3"/>
<line x1="224.25" y1="276.80" x2="224.25" y2="281.70" stroke="#000" stroke-width="1.3"/>
<line x1="221.25" y1="281.70" x2="227.25" y2="281.70" stroke="#000" stroke-width="1.3"/>
<line x1="247.50" y1="276.20" x2="247.50" y2="281.70" stroke="#000" stroke-width="1.3"/>
<line x1="244.50" y1="281.70" x2="250.50" y2="281.70" stroke="#000" stroke-width="1.3"/>
<polyline points="84.75,265.80 108.00,246.50 131.25,264.80 154.50,256.70 177.75,264.60 201.00,234.70 224.25,239.90 247.50,257.20" fill="none" stroke="#000" stroke-width="1.5"/>
<polyline points="84.75,295.20 108.00,306.70 131.25,298.50 154.50,301.90 177.75,293.10 201.00,281.70 224.25,276.80 247.50,276.20" fill="none" stroke="#000" stroke-width="1.5"/>
<polyline points="84.75,292.00 108.00,278.80 131.25,285.60 154.50,286.20 177.75,280.40 201.00,273.20 224.25,266.30 247.50,269.80" fill="none" stroke="#000" stroke-width="1.5"/>
<polyline points="84.75,290.40 108.00,282.30 131.25,279.20 154.50,280.40 177.75,277.90 201.00,277.90 224.25,264.60 247.50,271.10" fill="none" stroke="#000" stroke-width="1.5"/>
<rect x="81.15" y="291.60" width="7.2" height="7.2" fill="#000"/>
<rect x="81.55" y="288.80" width="6.4" height="6.4" fill="#fff" stroke="#000" stroke-width="1.4"/>
<circle cx="84.75" cy="290.40" r="3.3" fill="#fff" stroke="#000" stroke-width="1.4"/>
<circle cx="84.75" cy="265.80" r="3.6" fill="#000"/>
<rect x="104.40" y="303.10" width="7.2" height="7.2" fill="#000"/>
<rect x="104.80" y="275.60" width="6.4" height="6.4" fill="#fff" stroke="#000" stroke-width="1.4"/>
<circle cx="108.00" cy="282.30" r="3.3" fill="#fff" stroke="#000" stroke-width="1.4"/>
<circle cx="108.00" cy="246.50" r="3.6" fill="#000"/>
<rect x="127.65" y="294.90" width="7.2" height="7.2" fill="#000"/>
<rect x="128.05" y="282.40" width="6.4" height="6.4" fill="#fff" stroke="#000" stroke-width="1.4"/>
<circle cx="131.25" cy="279.20" r="3.3" fill="#fff" stroke="#000" stroke-width="1.4"/>
<circle cx="131.25" cy="264.80" r="3.6" fill="#000"/>
<rect x="150.90" y="298.30" width="7.2" height="7.2" fill="#000"/>
<rect x="151.30" y="283.00" width="6.4" height="6.4" fill="#fff" stroke="#000" stroke-width="1.4"/>
<circle cx="154.50" cy="280.40" r="3.3" fill="#fff" stroke="#000" stroke-width="1.4"/>
<circle cx="154.50" cy="256.70" r="3.6" fill="#000"/>
<rect x="174.15" y="289.50" width="7.2" height="7.2" fill="#000"/>
<rect x="174.55" y="277.20" width="6.4" height="6.4" fill="#fff" stroke="#000" stroke-width="1.4"/>
<circle cx="177.75" cy="277.90" r="3.3" fill="#fff" stroke="#000" stroke-width="1.4"/>
<circle cx="177.75" cy="264.60" r="3.6" fill="#000"/>
<rect x="197.40" y="278.10" width="7.2" height="7.2" fill="#000"/>
<rect x="197.80" y="270.00" width="6.4" height="6.4" fill="#fff" stroke="#000" stroke-width="1.4"/>
<circle cx="201.00" cy="277.90" r="3.3" fill="#fff" stroke="#000" stroke-width="1.4"/>
<circle cx="201.00" cy="234.70" r="3.6" fill="#000"/>
<rect x="220.65" y="273.20" width="7.2" height="7.2" fill="#000"/>
<rect x="221.05" y="263.10" width="6.4" height="6.4" fill="#fff" stroke="#000" stroke-width="1.4"/>
<circle cx="224.25" cy="264.60" r="3.3" fill="#fff" stroke="#000" stroke-width="1.4"/>
<circle cx="224.25" cy="239.90" r="3.6" fill="#000"/>
<rect x="243.90" y="272.60" width="7.2" height="7.2" fill="#000"/>
<rect x="244.30" y="266.60" width="6.4" height="6.4" fill="#fff" stroke="#000" stroke-width="1.4"/>
<circle cx="247.50" cy="271.10" r="3.3" fill="#fff" stroke="#000" stroke-width="1.4"/>
<circle cx="247.50" cy="257.20" r="3.6" fill="#000"/>
<text x="84.75" y="257.94" font-size="15" font-weight="bold" text-anchor="middle" font-style="normal" >*</text>
<text x="108.00" y="234.44" font-size="15" font-weight="bold" text-anchor="middle" font-style="normal" >*</text>
<text x="154.50" y="253.14" font-size="15" font-weight="bold" text-anchor="middle" font-style="normal" >*</text>
<text x="201.00" y="252.44" font-size="15" font-weight="bold" text-anchor="middle" font-style="normal" >*</text>
<text x="247.50" y="254.24" font-size="15" font-weight="bold" text-anchor="middle" font-style="normal" >*</text>
<text x="108.30" y="322.26" font-size="9.6" font-weight="bold" text-anchor="middle" font-style="italic" >#</text>
<text x="131.55" y="312.66" font-size="9.6" font-weight="bold" text-anchor="middle" font-style="italic" >#</text>
<text x="154.80" y="316.46" font-size="9.6" font-weight="bold" text-anchor="middle" font-style="italic" >#</text>
<text x="178.05" y="307.16" font-size="9.6" font-weight="bold" text-anchor="middle" font-style="italic" >#</text>
<text transform="translate(262.50,212.10) scale(1.03,1.1)" font-size="20" font-weight="bold">D</text>
<line x1="317.80" y1="207.21" x2="317.80" y2="326.80" stroke="#000" stroke-width="1.6"/>
<line x1="314.60" y1="208.01" x2="317.80" y2="208.01" stroke="#000" stroke-width="1.6"/>
<line x1="314.60" y1="227.68" x2="317.80" y2="227.68" stroke="#000" stroke-width="1.6"/>
<line x1="314.60" y1="247.34" x2="317.80" y2="247.34" stroke="#000" stroke-width="1.6"/>
<line x1="314.60" y1="267.00" x2="317.80" y2="267.00" stroke="#000" stroke-width="1.6"/>
<line x1="314.60" y1="286.67" x2="317.80" y2="286.67" stroke="#000" stroke-width="1.6"/>
<line x1="314.60" y1="306.33" x2="317.80" y2="306.33" stroke="#000" stroke-width="1.6"/>
<line x1="314.60" y1="326.00" x2="317.80" y2="326.00" stroke="#000" stroke-width="1.6"/>
<line x1="316.20" y1="217.84" x2="317.80" y2="217.84" stroke="#000" stroke-width="1.6"/>
<line x1="316.20" y1="237.51" x2="317.80" y2="237.51" stroke="#000" stroke-width="1.6"/>
<line x1="316.20" y1="257.17" x2="317.80" y2="257.17" stroke="#000" stroke-width="1.6"/>
<line x1="316.20" y1="276.84" x2="317.80" y2="276.84" stroke="#000" stroke-width="1.6"/>
<line x1="316.20" y1="296.50" x2="317.80" y2="296.50" stroke="#000" stroke-width="1.6"/>
<line x1="316.20" y1="316.17" x2="317.80" y2="316.17" stroke="#000" stroke-width="1.6"/>
<text x="312.80" y="211.31" font-size="9.5" font-weight="bold" text-anchor="end" font-style="normal" >4.0</text>
<text x="312.80" y="230.98" font-size="9.5" font-weight="bold" text-anchor="end" font-style="normal" >3.5</text>
<text x="312.80" y="250.64" font-size="9.5" font-weight="bold" text-anchor="end" font-style="normal" >3.0</text>
<text x="312.80" y="270.31" font-size="9.5" font-weight="bold" text-anchor="end" font-style="normal" >2.5</text>
<text x="312.80" y="289.97" font-size="9.5" font-weight="bold" text-anchor="end" font-style="normal" >2.0</text>
<text x="312.80" y="309.63" font-size="9.5" font-weight="bold" text-anchor="end" font-style="normal" >1.5</text>
<text x="312.80" y="329.30" font-size="9.5" font-weight="bold" text-anchor="end" font-style="normal" >1.0</text>
<line x1="330.95" y1="339.30" x2="514.95" y2="339.30" stroke="#000" stroke-width="1.6"/>
<line x1="331.75" y1="339.30" x2="331.75" y2="342.70" stroke="#000" stroke-width="1.6"/>
<line x1="354.55" y1="339.30" x2="354.55" y2="342.70" stroke="#000" stroke-width="1.6"/>
<line x1="377.35" y1="339.30" x2="377.35" y2="342.70" stroke="#000" stroke-width="1.6"/>
<line x1="400.15" y1="339.30" x2="400.15" y2="342.70" stroke="#000" stroke-width="1.6"/>
<line x1="422.95" y1="339.30" x2="422.95" y2="342.70" stroke="#000" stroke-width="1.6"/>
<line x1="445.75" y1="339.30" x2="445.75" y2="342.70" stroke="#000" stroke-width="1.6"/>
<line x1="468.55" y1="339.30" x2="468.55" y2="342.70" stroke="#000" stroke-width="1.6"/>
<line x1="491.35" y1="339.30" x2="491.35" y2="342.70" stroke="#000" stroke-width="1.6"/>
<line x1="514.15" y1="339.30" x2="514.15" y2="342.70" stroke="#000" stroke-width="1.6"/>
<text x="331.75" y="353.60" font-size="9.4" font-weight="bold" text-anchor="middle" font-style="normal" >0</text>
<text x="354.55" y="353.60" font-size="9.4" font-weight="bold" text-anchor="middle" font-style="normal" >1</text>
<text x="377.35" y="353.60" font-size="9.4" font-weight="bold" text-anchor="middle" font-style="normal" >2</text>
<text x="400.15" y="353.60" font-size="9.4" font-weight="bold" text-anchor="middle" font-style="normal" >3</text>
<text x="422.95" y="353.60" font-size="9.4" font-weight="bold" text-anchor="middle" font-style="normal" >4</text>
<text x="445.75" y="353.60" font-size="9.4" font-weight="bold" text-anchor="middle" font-style="normal" >5</text>
<text x="468.55" y="353.60" font-size="9.4" font-weight="bold" text-anchor="middle" font-style="normal" >6</text>
<text x="491.35" y="353.60" font-size="9.4" font-weight="bold" text-anchor="middle" font-style="normal" >7</text>
<text x="514.15" y="353.60" font-size="9.4" font-weight="bold" text-anchor="middle" font-style="normal" >8</text>
<text x="423.10" y="367.70" font-size="10.7" font-weight="bold" text-anchor="middle" font-style="normal" >Weeks on Diet</text>
<text transform="translate(277.20,266.70) rotate(-90)" font-size="10.8" font-weight="bold" text-anchor="middle">Energy Intake</text>
<text transform="translate(288.50,267.00) rotate(-90)" font-size="10.9" font-weight="bold" text-anchor="middle">(kJ/day/g BW)</text>
<circle cx="348.10" cy="208.00" r="3.35" fill="#fff" stroke="#000" stroke-width="1.4"/>
<circle cx="348.10" cy="220.50" r="3.45" fill="#000"/>
<rect x="440.50" y="204.10" width="6.4" height="6.4" fill="#fff" stroke="#000" stroke-width="1.5"/>
<rect x="440.10" y="216.20" width="6.8" height="6.8" fill="#000"/>
<text x="362.70" y="211.40" font-size="9.5" font-weight="bold" text-anchor="start" font-style="normal"  textLength="36.0" lengthAdjust="spacingAndGlyphs">WT CON</text>
<text x="362.70" y="223.70" font-size="9.5" font-weight="bold" text-anchor="start" font-style="normal" >WT MR</text>
<text x="458.60" y="211.30" font-size="9.5" font-weight="bold" text-anchor="start" font-style="italic" >Fgf21</text>
<text x="482.80" y="207.60" font-size="6" font-weight="bold" text-anchor="start" font-style="italic" >-/-</text>
<text x="490.20" y="211.30" font-size="9.5" font-weight="bold" text-anchor="start" font-style="italic" >CON</text>
<text x="458.60" y="223.10" font-size="9.5" font-weight="bold" text-anchor="start" font-style="italic" >Fgf21</text>
<text x="482.80" y="219.40" font-size="6" font-weight="bold" text-anchor="start" font-style="italic" >-/-</text>
<text x="490.20" y="223.10" font-size="9.5" font-weight="bold" text-anchor="start" font-style="italic" >MR</text>
<line x1="354.55" y1="277.80" x2="354.55" y2="270.30" stroke="#000" stroke-width="1.3"/>
<line x1="351.55" y1="270.30" x2="357.55" y2="270.30" stroke="#000" stroke-width="1.3"/>
<line x1="377.35" y1="267.40" x2="377.35" y2="259.60" stroke="#000" stroke-width="1.3"/>
<line x1="374.35" y1="259.60" x2="380.35" y2="259.60" stroke="#000" stroke-width="1.3"/>
<line x1="400.15" y1="255.30" x2="400.15" y2="241.40" stroke="#000" stroke-width="1.3"/>
<line x1="397.15" y1="241.40" x2="403.15" y2="241.40" stroke="#000" stroke-width="1.3"/>
<line x1="422.95" y1="250.10" x2="422.95" y2="237.10" stroke="#000" stroke-width="1.3"/>
<line x1="419.95" y1="237.10" x2="425.95" y2="237.10" stroke="#000" stroke-width="1.3"/>
<line x1="445.75" y1="265.80" x2="445.75" y2="260.60" stroke="#000" stroke-width="1.3"/>
<line x1="442.75" y1="260.60" x2="448.75" y2="260.60" stroke="#000" stroke-width="1.3"/>
<line x1="468.55" y1="249.00" x2="468.55" y2="240.80" stroke="#000" stroke-width="1.3"/>
<line x1="465.55" y1="240.80" x2="471.55" y2="240.80" stroke="#000" stroke-width="1.3"/>
<line x1="491.35" y1="242.70" x2="491.35" y2="238.10" stroke="#000" stroke-width="1.3"/>
<line x1="488.35" y1="238.10" x2="494.35" y2="238.10" stroke="#000" stroke-width="1.3"/>
<line x1="514.15" y1="263.50" x2="514.15" y2="255.80" stroke="#000" stroke-width="1.3"/>
<line x1="511.15" y1="255.80" x2="517.15" y2="255.80" stroke="#000" stroke-width="1.3"/>
<line x1="491.35" y1="287.50" x2="491.35" y2="293.50" stroke="#000" stroke-width="1.3"/>
<line x1="488.35" y1="293.50" x2="494.35" y2="293.50" stroke="#000" stroke-width="1.3"/>
<line x1="491.35" y1="300.00" x2="491.35" y2="293.50" stroke="#000" stroke-width="1.3"/>
<line x1="488.35" y1="293.50" x2="494.35" y2="293.50" stroke="#000" stroke-width="1.3"/>
<polyline points="354.55,277.80 377.35,267.40 400.15,255.30 422.95,250.10 445.75,265.80 468.55,249.00 491.35,242.70 514.15,263.50" fill="none" stroke="#000" stroke-width="1.5"/>
<polyline points="354.55,286.40 377.35,294.20 400.15,284.40 422.95,296.30 445.75,290.40 468.55,296.00 491.35,287.50 514.15,297.10" fill="none" stroke="#000" stroke-width="1.5"/>
<polyline points="354.55,298.60 377.35,291.60 400.15,300.30 422.95,301.20 445.75,301.90 468.55,298.00 491.35,309.20 514.15,308.10" fill="none" stroke="#000" stroke-width="1.5"/>
<polyline points="354.55,305.50 377.35,297.70 400.15,300.30 422.95,305.00 445.75,303.80 468.55,305.40 491.35,300.00 514.15,315.40" fill="none" stroke="#000" stroke-width="1.5"/>
<rect x="350.95" y="282.80" width="7.2" height="7.2" fill="#000"/>
<rect x="351.35" y="295.40" width="6.4" height="6.4" fill="#fff" stroke="#000" stroke-width="1.4"/>
<circle cx="354.55" cy="305.50" r="3.3" fill="#fff" stroke="#000" stroke-width="1.4"/>
<circle cx="354.55" cy="277.80" r="3.6" fill="#000"/>
<rect x="373.75" y="290.60" width="7.2" height="7.2" fill="#000"/>
<rect x="374.15" y="288.40" width="6.4" height="6.4" fill="#fff" stroke="#000" stroke-width="1.4"/>
<circle cx="377.35" cy="297.70" r="3.3" fill="#fff" stroke="#000" stroke-width="1.4"/>
<circle cx="377.35" cy="267.40" r="3.6" fill="#000"/>
<rect x="396.55" y="280.80" width="7.2" height="7.2" fill="#000"/>
<rect x="396.95" y="297.10" width="6.4" height="6.4" fill="#fff" stroke="#000" stroke-width="1.4"/>
<circle cx="400.15" cy="300.30" r="3.3" fill="#fff" stroke="#000" stroke-width="1.4"/>
<circle cx="400.15" cy="255.30" r="3.6" fill="#000"/>
<rect x="419.35" y="292.70" width="7.2" height="7.2" fill="#000"/>
<rect x="419.75" y="298.00" width="6.4" height="6.4" fill="#fff" stroke="#000" stroke-width="1.4"/>
<circle cx="422.95" cy="305.00" r="3.3" fill="#fff" stroke="#000" stroke-width="1.4"/>
<circle cx="422.95" cy="250.10" r="3.6" fill="#000"/>
<rect x="442.15" y="286.80" width="7.2" height="7.2" fill="#000"/>
<rect x="442.55" y="298.70" width="6.4" height="6.4" fill="#fff" stroke="#000" stroke-width="1.4"/>
<circle cx="445.75" cy="303.80" r="3.3" fill="#fff" stroke="#000" stroke-width="1.4"/>
<circle cx="445.75" cy="265.80" r="3.6" fill="#000"/>
<rect x="464.95" y="292.40" width="7.2" height="7.2" fill="#000"/>
<rect x="465.35" y="294.80" width="6.4" height="6.4" fill="#fff" stroke="#000" stroke-width="1.4"/>
<circle cx="468.55" cy="305.40" r="3.3" fill="#fff" stroke="#000" stroke-width="1.4"/>
<circle cx="468.55" cy="249.00" r="3.6" fill="#000"/>
<rect x="487.75" y="283.90" width="7.2" height="7.2" fill="#000"/>
<rect x="488.15" y="306.00" width="6.4" height="6.4" fill="#fff" stroke="#000" stroke-width="1.4"/>
<circle cx="491.35" cy="300.00" r="3.3" fill="#fff" stroke="#000" stroke-width="1.4"/>
<circle cx="491.35" cy="242.70" r="3.6" fill="#000"/>
<rect x="510.55" y="293.50" width="7.2" height="7.2" fill="#000"/>
<rect x="510.95" y="304.90" width="6.4" height="6.4" fill="#fff" stroke="#000" stroke-width="1.4"/>
<circle cx="514.15" cy="315.40" r="3.3" fill="#fff" stroke="#000" stroke-width="1.4"/>
<circle cx="514.15" cy="263.50" r="3.6" fill="#000"/>
<text x="354.55" y="272.34" font-size="15" font-weight="bold" text-anchor="middle" font-style="normal" >*</text>
<text x="377.35" y="262.24" font-size="15" font-weight="bold" text-anchor="middle" font-style="normal" >*</text>
<text x="400.15" y="243.54" font-size="15" font-weight="bold" text-anchor="middle" font-style="normal" >*</text>
<text x="422.95" y="238.34" font-size="15" font-weight="bold" text-anchor="middle" font-style="normal" >*</text>
<text x="445.75" y="260.74" font-size="15" font-weight="bold" text-anchor="middle" font-style="normal" >*</text>
<text x="468.55" y="241.54" font-size="15" font-weight="bold" text-anchor="middle" font-style="normal" >*</text>
<text x="491.35" y="239.54" font-size="15" font-weight="bold" text-anchor="middle" font-style="normal" >*</text>
<text x="514.15" y="257.44" font-size="15" font-weight="bold" text-anchor="middle" font-style="normal" >*</text>
<text transform="translate(0.90,387.80) scale(1.03,1.1)" font-size="20" font-weight="bold">E</text>
<line x1="43.20" y1="388.90" x2="43.20" y2="533.30" stroke="#000" stroke-width="1.6"/>
<line x1="39.70" y1="389.70" x2="43.20" y2="389.70" stroke="#000" stroke-width="1.6"/>
<line x1="39.70" y1="437.30" x2="43.20" y2="437.30" stroke="#000" stroke-width="1.6"/>
<line x1="39.70" y1="484.90" x2="43.20" y2="484.90" stroke="#000" stroke-width="1.6"/>
<line x1="39.70" y1="532.50" x2="43.20" y2="532.50" stroke="#000" stroke-width="1.6"/>
<line x1="41.60" y1="413.50" x2="43.20" y2="413.50" stroke="#000" stroke-width="1.6"/>
<line x1="41.60" y1="461.10" x2="43.20" y2="461.10" stroke="#000" stroke-width="1.6"/>
<line x1="41.60" y1="508.70" x2="43.20" y2="508.70" stroke="#000" stroke-width="1.6"/>
<text x="38.00" y="393.50" font-size="10.5" font-weight="bold" text-anchor="end" font-style="normal" >3</text>
<text x="38.00" y="441.10" font-size="10.5" font-weight="bold" text-anchor="end" font-style="normal" >2</text>
<text x="38.00" y="488.70" font-size="10.5" font-weight="bold" text-anchor="end" font-style="normal" >1</text>
<text x="38.00" y="536.30" font-size="10.5" font-weight="bold" text-anchor="end" font-style="normal" >0</text>
<line x1="43.20" y1="532.50" x2="252.00" y2="532.50" stroke="#000" stroke-width="1.6"/>
<rect x="65.10" y="437.10" width="23.60" height="95.40" fill="#fff" stroke="#000" stroke-width="1.8"/>
<rect x="104.10" y="409.90" width="26.50" height="122.60" fill="#000"/>
<rect x="172.40" y="430.80" width="24.10" height="101.70" fill="#fff" stroke="#000" stroke-width="1.8"/>
<rect x="211.90" y="432.90" width="26.20" height="99.60" fill="#000"/>
<line x1="72.00" y1="435.60" x2="82.00" y2="435.60" stroke="#000" stroke-width="1.3"/>
<line x1="112.00" y1="409.70" x2="122.00" y2="409.70" stroke="#000" stroke-width="1.3"/>
<line x1="179.00" y1="429.40" x2="189.00" y2="429.40" stroke="#000" stroke-width="1.3"/>
<line x1="220.00" y1="432.40" x2="230.00" y2="432.40" stroke="#000" stroke-width="1.3"/>
<text x="77.10" y="430.40" font-size="13.5" font-weight="normal" text-anchor="middle" font-style="normal" >a</text>
<text x="116.70" y="403.80" font-size="13.5" font-weight="normal" text-anchor="middle" font-style="normal" >b</text>
<text x="184.90" y="424.60" font-size="13.5" font-weight="normal" text-anchor="middle" font-style="normal" >c</text>
<text x="225.70" y="427.20" font-size="13.5" font-weight="normal" text-anchor="middle" font-style="normal" >c</text>
<rect x="178.80" y="393.10" width="12.90" height="4.20" fill="#fff" stroke="#000" stroke-width="1.7"/>
<rect x="178.40" y="403.60" width="13.70" height="5.40" fill="#000" stroke="#000" stroke-width="0.6"/>
<text x="202.50" y="399.00" font-size="10" font-weight="bold" text-anchor="start" font-style="normal" >CON</text>
<text x="202.50" y="410.70" font-size="10" font-weight="bold" text-anchor="start" font-style="normal" >MR</text>
<text x="96.80" y="548.50" font-size="10" font-weight="bold" text-anchor="middle" font-style="normal" >WT</text>
<text x="187.00" y="548.30" font-size="10" font-weight="bold" text-anchor="start" font-style="italic"  textLength="35.8" lengthAdjust="spacingAndGlyphs">Fgf21<tspan font-size="7" dy="-4.2">-/-</tspan></text>
<text transform="translate(9.50,460.00) rotate(-90)" font-size="10.5" font-weight="bold" text-anchor="middle">Energy Expenditure</text>
<text transform="translate(21.50,460.00) rotate(-90)" font-size="10.5" font-weight="bold" text-anchor="middle">(kJ/h/mouse)</text>
<text transform="translate(263.50,387.80) scale(1.03,1.1)" font-size="20" font-weight="bold">F</text>
<line x1="304.40" y1="386.70" x2="304.40" y2="535.30" stroke="#000" stroke-width="1.6"/>
<line x1="300.90" y1="387.50" x2="304.40" y2="387.50" stroke="#000" stroke-width="1.6"/>
<line x1="300.90" y1="436.50" x2="304.40" y2="436.50" stroke="#000" stroke-width="1.6"/>
<line x1="300.90" y1="485.50" x2="304.40" y2="485.50" stroke="#000" stroke-width="1.6"/>
<line x1="300.90" y1="534.50" x2="304.40" y2="534.50" stroke="#000" stroke-width="1.6"/>
<text x="299.00" y="391.30" font-size="10.5" font-weight="bold" text-anchor="end" font-style="normal" >1.0</text>
<text x="299.00" y="440.30" font-size="10.5" font-weight="bold" text-anchor="end" font-style="normal" >0.9</text>
<text x="299.00" y="489.30" font-size="10.5" font-weight="bold" text-anchor="end" font-style="normal" >0.8</text>
<text x="299.00" y="538.30" font-size="10.5" font-weight="bold" text-anchor="end" font-style="normal" >0.7</text>
<line x1="304.40" y1="534.40" x2="518.50" y2="534.40" stroke="#000" stroke-width="1.6"/>
<rect x="327.10" y="483.90" width="24.30" height="50.50" fill="#fff" stroke="#000" stroke-width="1.8"/>
<rect x="367.10" y="479.00" width="26.70" height="55.40" fill="#000"/>
<rect x="437.20" y="479.50" width="24.20" height="54.90" fill="#fff" stroke="#000" stroke-width="1.8"/>
<rect x="477.30" y="483.00" width="26.40" height="51.40" fill="#000"/>
<line x1="339.20" y1="483.30" x2="339.20" y2="475.60" stroke="#000" stroke-width="1.8"/>
<line x1="332.70" y1="475.60" x2="345.70" y2="475.60" stroke="#000" stroke-width="1.8"/>
<line x1="380.60" y1="479.20" x2="380.60" y2="471.70" stroke="#000" stroke-width="1.8"/>
<line x1="374.10" y1="471.70" x2="387.10" y2="471.70" stroke="#000" stroke-width="1.8"/>
<line x1="449.30" y1="478.80" x2="449.30" y2="470.80" stroke="#000" stroke-width="1.8"/>
<line x1="442.80" y1="470.80" x2="455.80" y2="470.80" stroke="#000" stroke-width="1.8"/>
<line x1="490.50" y1="483.30" x2="490.50" y2="476.00" stroke="#000" stroke-width="1.8"/>
<line x1="484.00" y1="476.00" x2="497.00" y2="476.00" stroke="#000" stroke-width="1.8"/>
<text x="339.20" y="471.70" font-size="13.5" font-weight="normal" text-anchor="middle" font-style="normal" >a</text>
<text x="380.60" y="467.40" font-size="13.5" font-weight="normal" text-anchor="middle" font-style="normal" >a</text>
<text x="449.20" y="467.80" font-size="13.5" font-weight="normal" text-anchor="middle" font-style="normal" >a</text>
<text x="490.80" y="472.00" font-size="13.5" font-weight="normal" text-anchor="middle" font-style="normal" >a</text>
<rect x="349.30" y="396.50" width="12.80" height="5.50" fill="#fff" stroke="#000" stroke-width="2"/>
<rect x="432.50" y="395.80" width="15.20" height="7.00" fill="#000" stroke="#000" stroke-width="0.5"/>
<text x="372.50" y="403.30" font-size="11" font-weight="normal" text-anchor="start" font-style="normal"  textLength="26.8" lengthAdjust="spacingAndGlyphs">CON</text>
<text x="456.90" y="403.40" font-size="11" font-weight="normal" text-anchor="start" font-style="normal"  textLength="18.4" lengthAdjust="spacingAndGlyphs">MR</text>
<text x="359.40" y="550.30" font-size="10" font-weight="bold" text-anchor="middle" font-style="normal" >WT</text>
<text x="452.00" y="549.90" font-size="11" font-weight="normal" text-anchor="start" font-style="italic"  textLength="35.3" lengthAdjust="spacingAndGlyphs">Fgf21<tspan font-size="7.5" dy="-4.5">-/-</tspan></text>
<text transform="translate(277.60,460.00) rotate(-90)" font-size="12.2" font-weight="bold" text-anchor="middle">Respiratory Quotient</text>
</svg></body></html>
